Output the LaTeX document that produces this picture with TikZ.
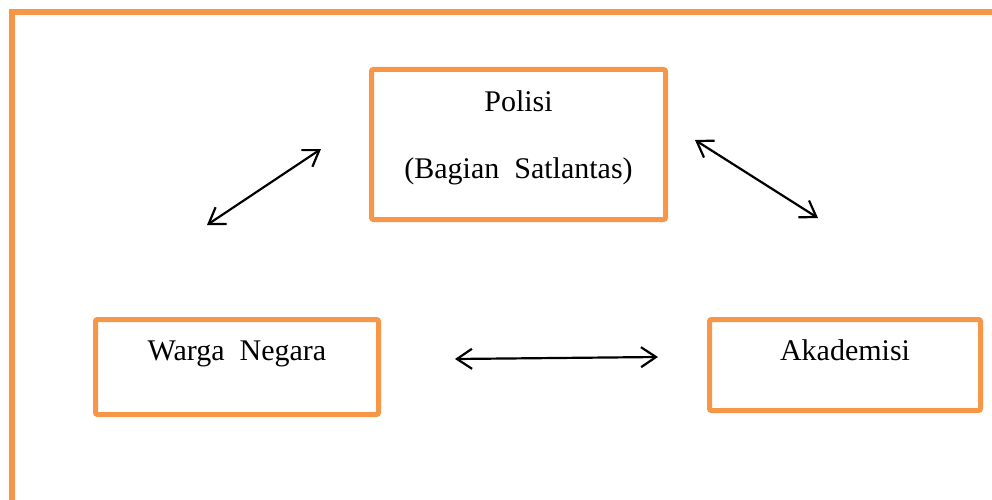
\documentclass[tikz,border=0pt]{standalone}
\usepackage{fontspec}
\setmainfont{Liberation Serif}
\usetikzlibrary{arrows.meta}
\definecolor{oranye}{HTML}{F79646}

\begin{document}
\begin{tikzpicture}[x=1pt,y=-1pt,>={Straight Barb[length=15pt,width=20pt]},
    kotak/.style={draw=oranye,line width=5pt,rounded corners=2pt,inner sep=0pt,outer sep=0pt,
      align=center,anchor=north west,font=\fontsize{30}{36}\selectfont}]
  \useasboundingbox (0,0) rectangle (992,500);
  % bingkai luar
  \draw[oranye,line width=6pt] (995,12) -- (12,12) -- (12,503);
  % kotak-kotak
  \node[kotak,minimum width=294pt,text height=108.5pt,text depth=41.5pt] (polisi) at (371.5,69.5)
    {Polisi\\[31pt](Bagian~~Satlantas)};
  \node[kotak,minimum width=283pt,text height=40.5pt,text depth=54.5pt] (warga) at (95.5,319.5)
    {Warga~~Negara};
  \node[kotak,minimum width=271pt,text height=40.5pt,text depth=50.5pt] (akademisi) at (709.5,319.5)
    {Akademisi};
  % ujung panah
  \coordinate (wp1) at (207,225);
  \coordinate (wp2) at (321,149);
  \coordinate (wa1) at (455,359);
  \coordinate (wa2) at (658,357);
  \coordinate (pa1) at (695,140);
  \coordinate (pa2) at (818,218);
  \draw[line width=2.2pt,<->] (wp1) -- (wp2);
  \draw[line width=2.2pt,<->] (wa1) -- (wa2);
  \draw[line width=2.2pt,<->] (pa1) -- (pa2);
\end{tikzpicture}
\end{document}
